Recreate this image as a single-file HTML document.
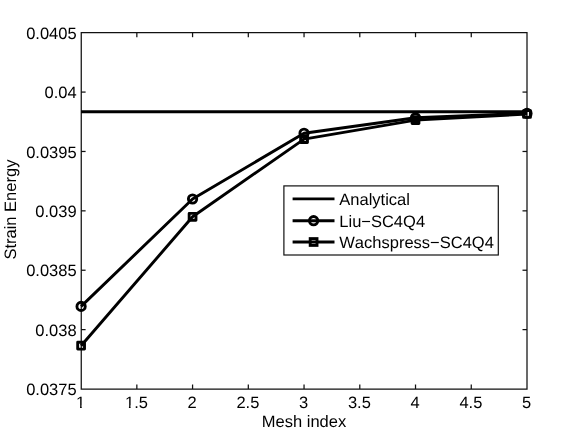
<!DOCTYPE html>
<html><head><meta charset="utf-8"><title>Strain Energy</title>
<style>html,body{margin:0;padding:0;background:#fff;}svg{display:block;will-change:transform;}text{font-family:"Liberation Sans",sans-serif;font-size:16.5px;fill:#000;font-kerning:none;text-rendering:geometricPrecision;}</style></head><body>
<svg width="581" height="437" viewBox="0 0 581 437">
<rect x="0" y="0" width="581" height="437" fill="#fff"/>
<g stroke="#111" stroke-width="1.25" fill="none">
<path d="M81.25 389.00 L81.25 32.70 L527.00 32.70 L527.00 389.00 L81.25 389.00 Z"/>
<line x1="136.84" y1="389.00" x2="136.84" y2="384.50"/>
<line x1="136.84" y1="32.70" x2="136.84" y2="37.20"/>
<line x1="192.57" y1="389.00" x2="192.57" y2="384.50"/>
<line x1="192.57" y1="32.70" x2="192.57" y2="37.20"/>
<line x1="248.31" y1="389.00" x2="248.31" y2="384.50"/>
<line x1="248.31" y1="32.70" x2="248.31" y2="37.20"/>
<line x1="304.05" y1="389.00" x2="304.05" y2="384.50"/>
<line x1="304.05" y1="32.70" x2="304.05" y2="37.20"/>
<line x1="359.79" y1="389.00" x2="359.79" y2="384.50"/>
<line x1="359.79" y1="32.70" x2="359.79" y2="37.20"/>
<line x1="415.52" y1="389.00" x2="415.52" y2="384.50"/>
<line x1="415.52" y1="32.70" x2="415.52" y2="37.20"/>
<line x1="471.26" y1="389.00" x2="471.26" y2="384.50"/>
<line x1="471.26" y1="32.70" x2="471.26" y2="37.20"/>
<line x1="81.10" y1="329.62" x2="85.60" y2="329.62"/>
<line x1="527.00" y1="329.62" x2="522.50" y2="329.62"/>
<line x1="81.10" y1="270.23" x2="85.60" y2="270.23"/>
<line x1="527.00" y1="270.23" x2="522.50" y2="270.23"/>
<line x1="81.10" y1="210.85" x2="85.60" y2="210.85"/>
<line x1="527.00" y1="210.85" x2="522.50" y2="210.85"/>
<line x1="81.10" y1="151.47" x2="85.60" y2="151.47"/>
<line x1="527.00" y1="151.47" x2="522.50" y2="151.47"/>
<line x1="81.10" y1="92.08" x2="85.60" y2="92.08"/>
<line x1="527.00" y1="92.08" x2="522.50" y2="92.08"/>
</g>
<text x="80.70" y="408.4" text-anchor="middle">1</text>
<rect x="76.41" y="405.4" width="3.65" height="3.8" fill="#fff"/>
<rect x="81.73" y="405.4" width="3.50" height="3.8" fill="#fff"/>
<text x="136.44" y="408.4" text-anchor="middle">1.5</text>
<rect x="125.27" y="405.4" width="3.65" height="3.8" fill="#fff"/>
<rect x="130.59" y="405.4" width="3.50" height="3.8" fill="#fff"/>
<text x="192.17" y="408.4" text-anchor="middle">2</text>
<text x="247.91" y="408.4" text-anchor="middle">2.5</text>
<text x="303.65" y="408.4" text-anchor="middle">3</text>
<text x="359.39" y="408.4" text-anchor="middle">3.5</text>
<text x="415.12" y="408.4" text-anchor="middle">4</text>
<text x="470.86" y="408.4" text-anchor="middle">4.5</text>
<text x="526.60" y="408.4" text-anchor="middle">5</text>
<text x="76.6" y="395.10" text-anchor="end">0.0375</text>
<text x="76.6" y="335.72" text-anchor="end">0.038</text>
<text x="76.6" y="276.33" text-anchor="end">0.0385</text>
<text x="76.6" y="216.95" text-anchor="end">0.039</text>
<text x="76.6" y="157.57" text-anchor="end">0.0395</text>
<text x="76.6" y="98.18" text-anchor="end">0.04</text>
<text x="76.6" y="38.80" text-anchor="end">0.0405</text>
<text x="304" y="427.2" text-anchor="middle">Mesh index</text>
<text transform="translate(15.9,209.6) rotate(-90)" text-anchor="middle">Strain Energy</text>
<g stroke="#000" stroke-width="2.9" fill="none" stroke-linejoin="round">
<line x1="81.10" y1="111.70" x2="527.00" y2="111.70" stroke-width="3.05"/>
<polyline points="81.10,306.40 192.57,199.00 304.05,133.30 415.52,117.80 527.00,113.40"/>
<polyline points="81.10,345.70 192.57,216.80 304.05,139.10 415.52,120.10 527.00,114.00"/>
<circle cx="81.10" cy="306.40" r="4.15"/>
<circle cx="192.57" cy="199.00" r="4.15"/>
<circle cx="304.05" cy="133.30" r="4.15"/>
<circle cx="415.52" cy="117.80" r="4.15"/>
<circle cx="527.00" cy="113.40" r="4.15"/>
<rect x="77.70" y="342.30" width="6.8" height="6.8"/>
<rect x="189.17" y="213.40" width="6.8" height="6.8"/>
<rect x="300.65" y="135.70" width="6.8" height="6.8"/>
<rect x="412.12" y="116.70" width="6.8" height="6.8"/>
<rect x="523.60" y="110.60" width="6.8" height="6.8"/>
</g>
<rect x="283.9" y="185.9" width="214.40" height="69.10" fill="#fff" stroke="#111" stroke-width="1.2"/>
<g stroke="#000" stroke-width="2.9" fill="none">
<line x1="292.6" y1="198.9" x2="334.5" y2="198.9"/>
<line x1="292.6" y1="220.7" x2="334.5" y2="220.7"/>
<line x1="292.6" y1="242.0" x2="334.5" y2="242.0"/>
<circle cx="313.6" cy="220.7" r="4.15"/>
<rect x="310.20" y="238.60" width="6.8" height="6.8"/>
</g>
<text x="339.3" y="204.75">Analytical</text>
<text x="339.3" y="226.55">Liu−SC4Q4</text>
<text x="339.3" y="247.85">Wachspress−SC4Q4</text>
</svg></body></html>
